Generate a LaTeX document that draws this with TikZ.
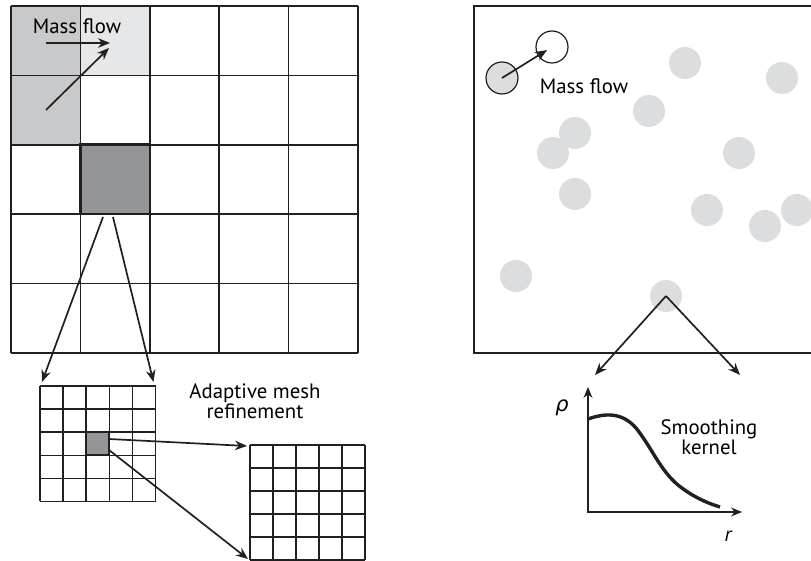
\documentclass[tikz,border=0pt]{standalone}
\usepackage{fontspec}
\setmainfont{PT Sans}
\newfontfamily\greekfont{DejaVu Sans}
\usetikzlibrary{arrows.meta}
\usepackage{xcolor}
\definecolor{Ink}{HTML}{231F20}
\definecolor{CellMid}{HTML}{C8C9CB}
\definecolor{CellLight}{HTML}{E6E7E8}
\definecolor{CellDark}{HTML}{939598}
\definecolor{Blob}{HTML}{DCDDDE}

\tikzset{
  gridline/.style={draw=Ink,line width=0.75pt},
  flow/.style={-{Stealth[length=6pt,width=4.8pt]},line width=0.85pt,draw=Ink},
  hotcell/.style={rectangle,fill=CellDark,draw=Ink,inner sep=0pt},
  blob/.style={circle,fill=Blob,minimum size=16pt,inner sep=0pt},
  txt/.style={align=center,inner sep=0pt}
}

\begin{document}
\begin{tikzpicture}[x=0.5pt,y=-0.5pt,font=\fontsize{10.4}{10.2}\selectfont]
    \useasboundingbox (0,0) rectangle (811,561);
    \clip (0,0) rectangle (811,561);
    \def\cw{69.4}\def\sw{23.1}\def\tw{23}
    % coarse mesh
    \begin{scope}[shift={(11,6)}]
      \fill[CellMid] (0,0) rectangle (\cw,2*\cw);
      \fill[CellLight] (\cw,0) rectangle (2*\cw,\cw);
      \foreach \i in {0,...,5}{
        \draw[gridline] (\i*\cw,0) -- (\i*\cw,5*\cw);
        \draw[gridline] (0,\i*\cw) -- (5*\cw,\i*\cw);
      }
      \node[hotcell,line width=1.3pt,minimum size=34.7pt] (hot) at (1.5*\cw,2.5*\cw) {};
    \end{scope}
    \node[txt] (mfL) at (77,26) {Mass flow};
    \coordinate (hA) at (46,43);  \coordinate (hB) at (110,43);
    \coordinate (dA) at (46,110); \coordinate (dB) at (109,48);
    \draw[flow] (hA) -- (hB);
    \draw[flow] (dA) -- (dB);
    % refined mesh
    \begin{scope}[shift={(40,386)}]
      \foreach \i in {0,...,5}{
        \draw[gridline] (\i*\sw,0) -- (\i*\sw,5*\sw);
        \draw[gridline] (0,\i*\sw) -- (5*\sw,\i*\sw);
      }
      \node[hotcell,line width=1pt,minimum size=11.55pt] (hot2) at (2.5*\sw,2.5*\sw) {};
      \coordinate (fineNW) at (0,0); \coordinate (fineNE) at (5*\sw,0);
    \end{scope}
    \coordinate (outL) at (103,217); \coordinate (outR) at (113,217);
    \draw[flow] (outL) -- ([shift={(2,-4)}]fineNW);
    \draw[flow] (outR) -- ([shift={(-2,-4)}]fineNE);
    % finest mesh
    \begin{scope}[shift={(250,445)}]
      \foreach \i in {0,...,5}{
        \draw[gridline] (\i*\tw,0) -- (\i*\tw,5*\tw);
        \draw[gridline] (0,\i*\tw) -- (5*\tw,\i*\tw);
      }
      \coordinate (finerNW) at (0,0); \coordinate (finerSW) at (0,5*\tw);
    \end{scope}
    \coordinate (h2a) at (109,439); \coordinate (h2b) at (109,450);
    \draw[flow] (h2a) -- ([shift={(-3,1)}]finerNW);
    \draw[flow] (h2b) -- ([shift={(-2,-1)}]finerSW);
    \node[txt] (amr) at (255,401) {Adaptive mesh\\refinement};
    % particles
    \draw[gridline] (474,6) rectangle (830,353);
    \foreach \n/\px/\py in {p1/685/63, p2/782/78, p3/649/111, p4/575/133,
        p5/553/153, p6/739/153, p7/575/194, p8/707/210, p9/765/226,
        p10/797/210, p11/516/276, p12/666/296}
      \node[blob] (\n) at (\px,\py) {};
    \node[blob,draw=Ink,line width=0.6pt] (src) at (502,78) {};
    \node[blob,fill=white,draw=Ink,line width=0.6pt] (dst) at (552,47) {};
    \draw[flow,shorten >=2.9pt] (src.center) -- (dst.center);
    \node[txt] (mfR) at (584,86) {Mass flow};
    \coordinate (kL) at (595,375); \coordinate (kR) at (740,375);
    \draw[flow] (p12.center) -- (kL);
    \draw[flow] (p12.center) -- (kR);
    % kernel plot
    \coordinate (org) at (588,512);
    \coordinate (yTop) at (588,387); \coordinate (xEnd) at (742,512);
    \draw[{Stealth[length=5.5pt,width=4.5pt]}-{Stealth[length=5.5pt,width=4.5pt]},line width=0.55pt,draw=Ink]
      (yTop) -- (org) -- (xEnd);
    \draw[line width=1.7pt,draw=Ink]
      (588,419) .. controls (605,413) and (622,412) .. (636,428)
      .. controls (652,448) and (660,470) .. (678,485)
      .. controls (693,497) and (707,503) .. (720,507);
    \node[txt] (rho) at (562,408) {\greekfont\itshape ρ};
    \node[txt] (rr) at (728,536) {\itshape r};
    \node[txt] (sk) at (709,437) {Smoothing\\kernel};
  \end{tikzpicture}
\end{document}
